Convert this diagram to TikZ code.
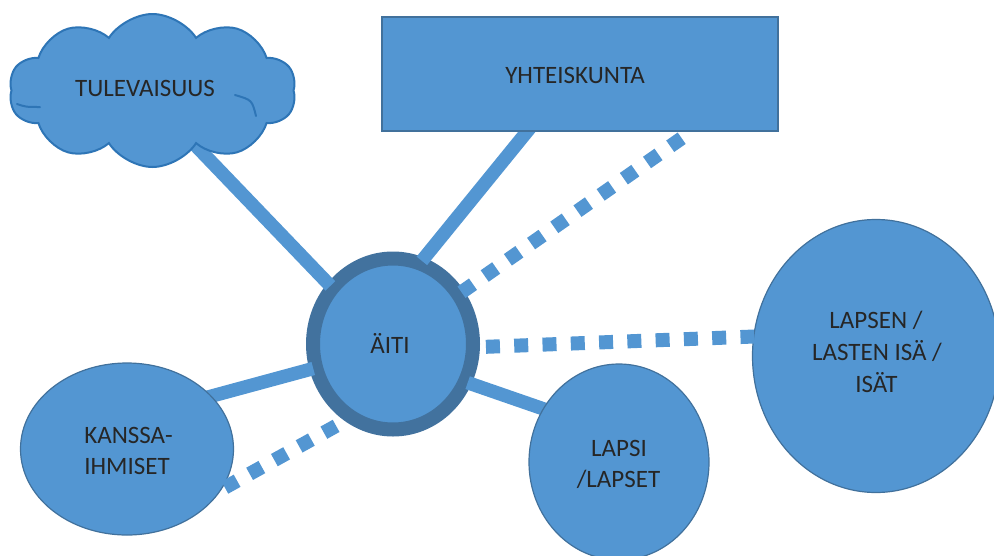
\documentclass[tikz,border=0pt]{standalone}
\usepackage{fontspec}
\setmainfont{Carlito}
\usetikzlibrary{shapes.geometric,shapes.symbols,calc}
\pgfdeclarelayer{ringlayer}
\pgfdeclarelayer{linklayer}
\pgfsetlayers{ringlayer,linklayer,main}
\definecolor{fillc}{RGB}{83,150,210}
\definecolor{edgec}{RGB}{65,113,156}
\definecolor{cloudedge}{RGB}{46,117,182}
\definecolor{ringc}{RGB}{66,114,158}
\definecolor{txtc}{RGB}{38,38,38}
\begin{document}
\begin{tikzpicture}[x=1pt,y=-1pt,
  shapebox/.style={fill=fillc,draw=edgec,line width=1.2pt,inner sep=0pt},
  lbl/.style={font=\fontsize{25}{31}\selectfont,text=txtc,inner sep=0pt,anchor=base},
  solidlink/.style={draw=fillc,line width=13.5pt},
  dotlink/.style={draw=fillc,line width=14pt,dash pattern=on 14pt off 14.3pt},
  puffline/.style={draw=cloudedge,line width=2pt,line cap=round}]
\useasboundingbox (0,0) rectangle (994,555);

\begin{pgfonlayer}{ringlayer}
\node[ellipse,fill=fillc,draw=ringc,line width=14pt,minimum width=160pt,minimum height=171pt,inner sep=0pt] (aiti) at (393,344) {};
\end{pgfonlayer}

% shapes
\node[cloud,cloud puffs=10,cloud puff arc=115,cloud ignores aspect,minimum width=287pt,minimum height=153pt,fill=fillc,draw=cloudedge,line width=2pt,inner sep=0pt] (tul) at (152.5,90.5) {};
\draw[puffline] (17,104) .. controls (26,107) .. (40,107);
\draw[puffline] (235,95) .. controls (252,100) .. (256,116);
\node[shapebox,rectangle,minimum width=396pt,minimum height=114pt] (yht) at (580,74) {};
\node[shapebox,ellipse,minimum width=213pt,minimum height=172pt] (kan) at (127,449) {};
\node[shapebox,ellipse,minimum width=180pt,minimum height=196pt] (lap) at (619,462) {};
\node[shapebox,ellipse,minimum width=247pt,minimum height=273pt] (isa) at (876,356) {};

% solid connectors (under the outer shapes, over the ring)
\begin{pgfonlayer}{linklayer}
\draw[solidlink,shorten <=-4pt,shorten >=-20pt] (aiti.137) -- ($(tul.center)+(46,58)$);
\draw[solidlink,shorten <=-4pt,shorten >=-12pt] (aiti.70) -- ($(yht.south)+(-53,0)$);
\draw[solidlink,shorten <=-4pt,shorten >=-8pt] (aiti.197) -- (kan.32);
\draw[solidlink,shorten <=-4pt,shorten >=-8pt] (aiti.-27) -- (lap.145);
\end{pgfonlayer}

% dotted connectors
\coordinate (yhtend) at ($(yht.south)+(104,5)$);
\draw[dotlink,shorten <=-3pt] (aiti.37) -- (yhtend);
\draw[dotlink,shorten <=6pt,shorten >=-1pt] (aiti.-2) -- (isa.171);
\draw[dotlink,shorten <=10pt] (aiti.238) -- (kan.-23);

% labels
\node[lbl] (tult) at (145,96) {TULEVAISUUS};
\node[lbl] (yhtt) at (575,83) {YHTEISKUNTA};
\node[lbl] (aitit) at (390,353) {ÄITI};
\node[lbl] (kant1) at (128.5,443) {KANSSA-};
\node[lbl] (kant2) at (127,474) {IHMISET};
\node[lbl] (lapt1) at (619,456) {LAPSI};
\node[lbl] (lapt2) at (618.5,487) {/LAPSET};
\node[lbl] (isat1) at (876,328) {LAPSEN /};
\node[lbl] (isat2) at (877,360) {LASTEN ISÄ /};
\node[lbl] (isat3) at (876.5,392) {ISÄT};
\end{tikzpicture}
\end{document}
